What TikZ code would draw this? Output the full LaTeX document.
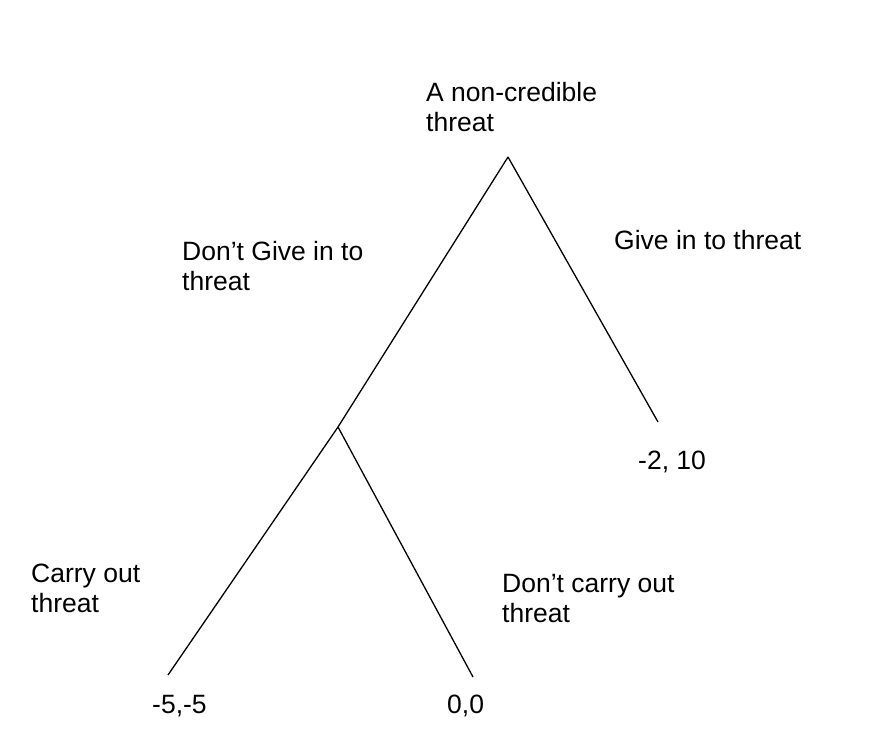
\documentclass[tikz,border=0pt]{standalone}
\usepackage{fontspec}
\setmainfont{Liberation Sans}
\begin{document}
\begin{tikzpicture}[x=1pt,y=1pt,
  lbl/.style={anchor=base west,inner sep=0pt,align=left,font=\fontsize{26.5}{30}\selectfont},
  branch/.style={draw=black,line width=1.3pt}]
\useasboundingbox (0,0) rectangle (889,753);
\coordinate (root) at (508,{753-157});
\coordinate (mid) at (338,{753-427});
\coordinate (give) at (658,{753-422});
\coordinate (carry) at (168,{753-675});
\coordinate (nocarry) at (473,{753-677});
\draw[branch] (root) -- (mid);
\draw[branch] (root) -- (give);
\draw[branch] (mid) -- (carry);
\draw[branch] (mid) -- (nocarry);
\node[lbl] (t1) at (426,{753-132}) {A non-credible\\threat};
\node[lbl] (t2) at (182,{753-291}) {Don’t Give in to\\threat};
\node[lbl] (t3) at (614,{753-250}) {Give in to threat};
\node[lbl] (t4) at (638,{753-470}) {-2, 10};
\node[lbl] (t5) at (31,{753-612}) {Carry out\\threat};
\node[lbl] (t6) at (502,{753-622}) {Don’t carry out\\threat};
\node[lbl] (t7) at (152,{753-713}) {-5,-5};
\node[lbl] (t8) at (447,{753-713}) {0,0};
\end{tikzpicture}
\end{document}
